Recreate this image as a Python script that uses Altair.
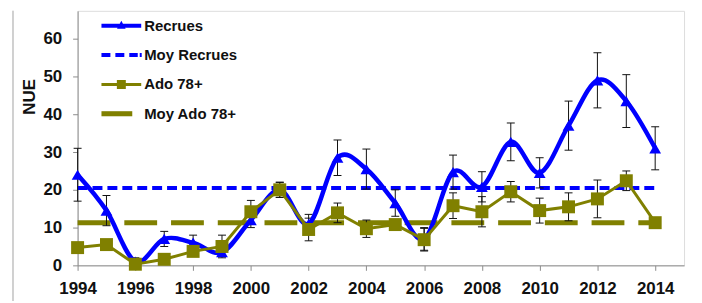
import altair as alt
import pandas as pd

# ---------------- data ----------------
years = list(range(1994, 2015))
recrues = [24, 14.5, 1, 7, 6, 3.5, 12, 20, 11, 28.5, 25.5, 16.5, 7, 24.7, 20.8, 32.7, 24.5, 37, 49, 43.5, 31]
recrues_err = [7, 4, 1, 2, 2, 1, 2, 2, 2.5, 4.7, 5.3, 3.5, 3, 4.5, 4, 5, 4, 6.5, 7.3, 7, 5.7]
ado = [4.7, 5.5, 0.3, 1.6, 3.7, 5, 14.2, 20, 9.5, 13.9, 9.7, 10.8, 6.8, 15.8, 14.2, 19.5, 14.5, 15.5, 17.6, 22.4, 11.3]
ado_err = [0, 0, 0, 0, 0, 3, 3, 2, 3, 2.6, 2.3, 1, 3, 3.4, 4, 2.7, 3.3, 3.7, 5, 2.6, 0]
moy_recrues = 20.5
moy_ado = 11.3
mean_years = [1994, 2014]
series_names = ["Recrues", "Moy Recrues", "Ado 78+", "Moy Ado 78+"]
x_ticks = list(range(1994, 2016))
y_ticks = list(range(0, 70, 5))

BLUE = "#0000ff"
OLIVE = "#808000"
FONT = "Liberation Sans"

rec_df = pd.DataFrame({"year": years, "value": recrues, "err": recrues_err})
rec_df["lo"] = rec_df["value"] - rec_df["err"]
rec_df["hi"] = rec_df["value"] + rec_df["err"]
ado_df = pd.DataFrame({"year": years, "value": ado, "err": ado_err})
ado_df["lo"] = ado_df["value"] - ado_df["err"]
ado_df["hi"] = ado_df["value"] + ado_df["err"]
err_df = pd.concat([rec_df, ado_df], ignore_index=True)
err_df = err_df[err_df["err"] > 0]
mrec_df = pd.DataFrame({"year": mean_years, "value": [moy_recrues] * 2})
mado_df = pd.DataFrame({"year": mean_years, "value": [moy_ado] * 2})
legend_df = pd.DataFrame({"series": series_names})

# ---------------- scales / axes ----------------
xs = alt.Scale(domain=[1994, 2015], nice=False, zero=False)
ys = alt.Scale(domain=[0, 67.4], nice=False)

x_axis = alt.Axis(values=x_ticks, format="d", title=None, grid=False,
                  labelExpr="datum.value % 2 == 0 ? datum.label : ''",
                  labelFont=FONT, labelFontSize=17, labelFontWeight="bold",
                  labelColor="#111", labelPadding=10, tickSize=5,
                  domainColor="#8c8c8c", tickColor="#8c8c8c", labelFlush=False,
                  labelOverlap=False)
y_axis = alt.Axis(values=y_ticks, title="NUE", grid=False,
                  labelExpr="datum.value % 10 == 0 ? datum.label : ''",
                  labelFont=FONT, labelFontSize=17, labelFontWeight="bold",
                  labelColor="#111", labelPadding=11, tickSize=5,
                  domainColor="#8c8c8c", tickColor="#8c8c8c",
                  titleFont=FONT, titleFontSize=17, titleFontWeight="bold",
                  titleColor="#111", titleAngle=270, titleX=-48, titleY=86,
                  titleAlign="center", titleBaseline="middle",
                  labelOverlap=False)

X = alt.X("year:Q", scale=xs, axis=x_axis)
Y = alt.Y("value:Q", scale=ys, axis=y_axis)

# ---------------- layers ----------------
frame = alt.Chart(legend_df).mark_rule(color="#cfcfcf", strokeWidth=1).encode(
    x=alt.value(-65), y=alt.value(0), y2=alt.value(292))

mean_rec = alt.Chart(mrec_df).mark_line(color=BLUE, strokeWidth=4, strokeDash=[10, 5],
                                        strokeCap="butt").encode(x=X, y=Y)
mean_ado = alt.Chart(mado_df).mark_line(color=OLIVE, strokeWidth=5, strokeDash=[33, 14],
                                        strokeCap="butt").encode(x=X, y=Y)

err_rule = alt.Chart(err_df).mark_rule(color="#111", strokeWidth=1).encode(
    x="year:Q", y="lo:Q", y2="hi:Q")
err_top = alt.Chart(err_df).mark_tick(color="#111", orient="horizontal", size=8,
                                      thickness=1, opacity=1).encode(x="year:Q", y="hi:Q")
err_bot = alt.Chart(err_df).mark_tick(color="#111", orient="horizontal", size=8,
                                      thickness=1, opacity=1).encode(x="year:Q", y="lo:Q")

rec_line = alt.Chart(rec_df).mark_line(color=BLUE, strokeWidth=4.5,
                                       interpolate="cardinal").encode(x=X, y=Y)
ado_line = alt.Chart(ado_df).mark_line(color=OLIVE, strokeWidth=3).encode(x=X, y=Y)
rec_pts = alt.Chart(rec_df).mark_point(shape="triangle-up", filled=True, size=140,
                                       color=BLUE, opacity=1).encode(x=X, y=Y)
ado_pts = alt.Chart(ado_df).mark_point(shape="square", filled=True, size=170,
                                       color=OLIVE, opacity=1).encode(x=X, y=Y)

# legend symbols: custom paths (1 unit = 15 px, symbol box = 30 px)
p_rec = "M-1.333,-0.133L1.333,-0.133L1.333,0.133L-1.333,0.133Z M0,-0.34L0.29,0.2L-0.29,0.2Z"
p_mrec = ("M-1.333,-0.133L-0.733,-0.133L-0.733,0.133L-1.333,0.133Z "
          "M-0.4,-0.133L0.2,-0.133L0.2,0.133L-0.4,0.133Z "
          "M0.533,-0.133L1.1,-0.133L1.1,0.133L0.533,0.133Z "
          "M1.233,-0.133L1.366,-0.133L1.366,0.133L1.233,0.133Z")
p_ado = "M-1.333,-0.1L1.333,-0.1L1.333,0.1L-1.333,0.1Z M-0.3,-0.3L0.3,-0.3L0.3,0.3L-0.3,0.3Z"
p_mado = "M-1.333,-0.17L0.733,-0.17L0.733,0.17L-1.333,0.17Z"

leg = alt.Legend(orient="none", legendX=29, legendY=0, title=None, symbolSize=900,
                 symbolStrokeWidth=0, symbolOpacity=1, labelFont=FONT, labelFontSize=15,
                 labelFontWeight="bold", labelColor="#111", labelOffset=8, rowPadding=6.5,
                 padding=0, labelLimit=300)
legend_layer = alt.Chart(legend_df).transform_filter("false").mark_point(
    filled=True, opacity=1).encode(
    shape=alt.Shape("series:N", scale=alt.Scale(domain=series_names,
                                                range=[p_rec, p_mrec, p_ado, p_mado]),
                    legend=leg),
    fill=alt.Fill("series:N", scale=alt.Scale(domain=series_names,
                                              range=[BLUE, BLUE, OLIVE, OLIVE]),
                  legend=leg),
)

chart = alt.layer(
    frame, mean_rec, mean_ado, err_rule, err_top, err_bot,
    rec_line, ado_line, rec_pts, ado_pts, legend_layer
).properties(
    width=610, height=256,
    autosize=alt.AutoSizeParams(type="none"),
    padding={"left": 70, "top": 2, "right": 10, "bottom": 35},
).configure_view(stroke=None).configure(background="white")

chart.save("out.html", embed_options={"renderer": "svg", "actions": False})
